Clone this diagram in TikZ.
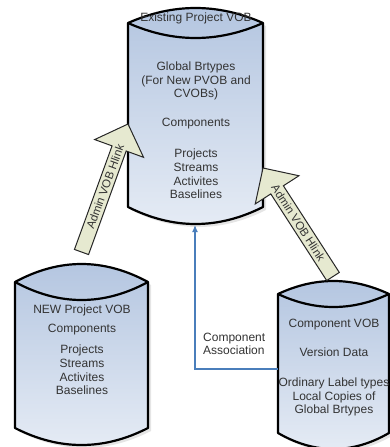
\documentclass[tikz,border=0pt]{standalone}
\usepackage{fontspec}
\setmainfont{Liberation Sans}
\usetikzlibrary{calc,arrows.meta}
\definecolor{cyltop}{HTML}{B3C5E0}
\definecolor{cylbot}{HTML}{E6ECF5}
\definecolor{hlinkfill}{HTML}{E6E9D0}
\definecolor{assocblue}{HTML}{4A7EBB}
\definecolor{txt}{HTML}{333333}
% #1 name, #2 xl, #3 xr, #4 top corner y, #5 lens half height, #6 bottom corner y, #7 bottom depth
\newcommand\vobcyl[7]{%
  \begin{scope}[shift={(3,3)}]
    \fill[black,opacity=.10] ({#2},{#4}) -- ({#2},{#6}) .. controls ({#2+(#3-#2)/3},{#6+4*#7/3}) and ({#3-(#3-#2)/3},{#6+4*#7/3}) .. ({#3},{#6}) -- ({#3},{#4}) .. controls ({#3-(#3-#2)/3},{#4-4*#5/3}) and ({#2+(#3-#2)/3},{#4-4*#5/3}) .. ({#2},{#4}) -- cycle;
  \end{scope}
  \path[cylbody] ({#2},{#4}) -- ({#2},{#6}) .. controls ({#2+(#3-#2)/3},{#6+4*#7/3}) and ({#3-(#3-#2)/3},{#6+4*#7/3}) .. ({#3},{#6}) -- ({#3},{#4}) .. controls ({#3-(#3-#2)/3},{#4-4*#5/3}) and ({#2+(#3-#2)/3},{#4-4*#5/3}) .. ({#2},{#4}) -- cycle;
  \draw[cylline] ({#2},{#4}) .. controls ({#2+(#3-#2)/3},{#4+4*#5/3}) and ({#3-(#3-#2)/3},{#4+4*#5/3}) .. ({#3},{#4});
}
% #1 name, #2 tail, #3 tip, #4 text angle, #5 text, #6 text position
\newcommand\hlinkarrow[6]{%
  \coordinate (#1-tail) at #2;
  \coordinate (#1-tip) at #3;
  \coordinate (#1-base) at ($(#1-tip)!26pt!(#1-tail)$);
  \draw[hlink] ($(#1-tail)!7.5pt!90:(#1-tip)$) -- ($(#1-base)!7.5pt!90:(#1-tip)$)
     -- ($(#1-base)!26pt!90:(#1-tip)$) -- (#1-tip) -- ($(#1-base)!26pt!-90:(#1-tip)$)
     -- ($(#1-base)!7.5pt!-90:(#1-tip)$) -- ($(#1-tail)!7.5pt!-90:(#1-tip)$) -- cycle;
  \node[hlinktext, rotate=#4] (#1-label) at ($(#1-tail)!#6!(#1-base)$) {#5};
}
\begin{document}
\begin{tikzpicture}[x=1pt,y=-1pt,
  cylbody/.style={top color=cyltop, bottom color=cylbot, draw=black, line width=2.2pt, line join=round},
  cylline/.style={draw=black, line width=2.2pt},
  hlink/.style={fill=hlinkfill, draw=black!85, line width=1pt, line join=miter},
  hlinktext/.style={font=\fontsize{11.5}{13}\selectfont, text=txt, inner sep=0pt},
  vobtext/.style={font=\fontsize{12}{13.7}\selectfont, text=txt, align=center, inner sep=0pt},
  assoc/.style={draw=assocblue, line width=1.2pt, -{Latex[length=7pt,width=6pt]}}]
\useasboundingbox (0,0) rectangle (390,447);

% cylinders
\vobcyl{tc}{128}{263}{23}{15}{207}{17}
\vobcyl{lc}{15}{148}{282}{18}{428}{17}
\vobcyl{rc}{278}{389}{294}{13}{433}{16}

% texts in the top cylinder
\node[vobtext] (tc-title) at (196,18) {Existing Project VOB};
\node[vobtext] (tc-brtypes) at (196,81) {Global Brtypes\\(For New PVOB and\\CVOBs)};
\node[vobtext] (tc-comp) at (196,124) {Components};
\node[vobtext] (tc-list) at (196,174) {Projects\\Streams\\Activites\\Baselines};

% texts in the left cylinder
\node[vobtext] (lc-title) at (82,310) {NEW Project VOB};
\node[vobtext] (lc-comp) at (82,330) {Components};
\node[vobtext] (lc-list) at (82,370) {Projects\\Streams\\Activites\\Baselines};

% texts in the right cylinder
\node[vobtext] (rc-title) at (334,325) {Component VOB};
\node[vobtext] (rc-data) at (334,352) {Version Data};
\node[vobtext] (rc-list) at (334,397) {Ordinary Label types\\Local Copies of\\Global Brtypes};

% hlink arrows
\hlinkarrow{la}{(81.5,252)}{(128,124)}{69.7}{Admin VOB Hlink}{0.63}
\hlinkarrow{ra}{(333,276.5)}{(263,168)}{-57.2}{Admin VOB Hlink}{0.62}

% component association
\coordinate (rc-w) at (278,369);
\coordinate (tc-s) at (195,225);
\draw[assoc] (rc-w) -| (tc-s);
\node[vobtext, align=left, anchor=west] (assoc-label) at (203,344) {Component\\Association};
\end{tikzpicture}
\end{document}
